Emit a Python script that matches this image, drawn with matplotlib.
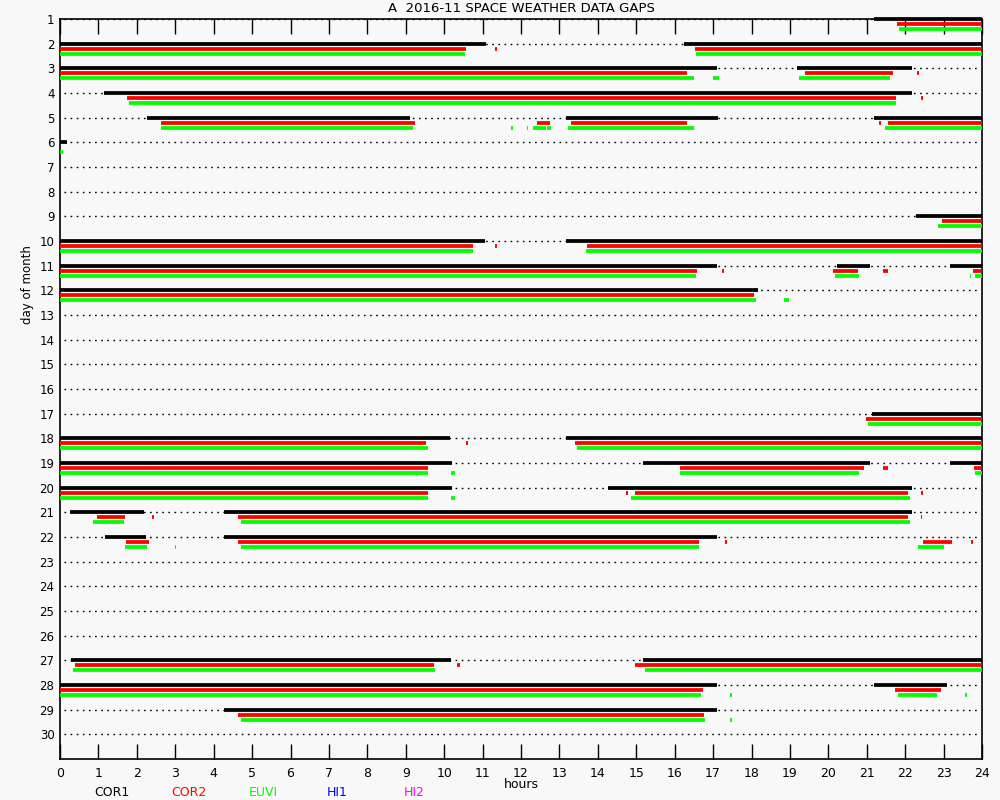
import matplotlib
matplotlib.use("Agg")
import matplotlib.pyplot as plt

# segments (day, start hour, end hour)
cor1_segments = [
    (1, 21.19, 24),
    (2, 0, 11.09), (2, 16.24, 24),
    (3, 0, 17.1), (3, 19.18, 22.18),
    (4, 1.15, 22.18),
    (5, 2.26, 9.11), (5, 13.17, 17.12), (5, 21.19, 24),
    (6, 0, 0.18),
    (9, 22.28, 24),
    (10, 0, 11.06), (10, 13.17, 24),
    (11, 0, 17.1), (11, 20.22, 21.08), (11, 23.17, 24),
    (12, 0, 18.17),
    (17, 21.13, 24),
    (18, 0, 10.15), (18, 13.17, 24),
    (19, 0, 10.2), (19, 15.17, 21.08), (19, 23.17, 24),
    (20, 0, 10.2), (20, 14.26, 22.18),
    (21, 0.26, 2.19), (21, 4.27, 22.18),
    (22, 1.17, 2.24), (22, 4.27, 17.1),
    (27, 0.29, 10.17), (27, 15.17, 24),
    (28, 0, 17.1), (28, 21.19, 23.08),
    (29, 4.27, 17.1),
]

cor2_segments = [
    (1, 21.79, 24),
    (2, 0, 10.57), (2, 11.33, 11.37), (2, 16.53, 24),
    (3, 0, 16.32), (3, 19.39, 21.68), (3, 22.31, 22.37),
    (4, 1.74, 21.76), (4, 22.42, 22.47),
    (5, 2.63, 9.24), (5, 12.42, 12.76), (5, 13.3, 16.32), (5, 21.33, 21.36), (5, 21.55, 24),
    (9, 22.96, 24),
    (10, 0, 10.75), (10, 11.33, 11.37), (10, 13.72, 24),
    (11, 0, 16.58), (11, 17.24, 17.28), (11, 20.12, 20.77), (11, 21.42, 21.55), (11, 23.76, 24),
    (12, 0, 18.06),
    (17, 20.98, 24),
    (18, 0, 9.53), (18, 10.58, 10.62), (18, 13.4, 24),
    (19, 0, 9.58), (19, 16.14, 20.93), (19, 21.42, 21.55), (19, 23.8, 24),
    (20, 0, 9.58), (20, 14.74, 14.78), (20, 14.97, 22.07), (20, 22.42, 22.46),
    (21, 0.96, 1.69), (21, 2.4, 2.44), (21, 4.63, 22.07), (21, 22.42, 22.45),
    (22, 1.72, 2.32), (22, 4.63, 16.63), (22, 17.31, 17.35), (22, 22.46, 23.22), (22, 23.72, 23.76),
    (27, 0.39, 9.73), (27, 10.34, 10.4), (27, 14.97, 24),
    (28, 0, 16.74), (28, 21.73, 22.93),
    (29, 4.63, 16.76),
]

euvi_segments = [
    (1, 21.84, 24),
    (2, 0, 10.54), (2, 16.55, 24),
    (3, 0, 16.5), (3, 16.99, 17.15), (3, 19.23, 21.6),
    (4, 1.8, 21.76),
    (5, 2.63, 9.19), (5, 11.75, 11.78), (5, 12.15, 12.18), (5, 12.31, 12.65),
    (5, 12.68, 12.79), (5, 13.22, 16.5), (5, 21.47, 24),
    (6, 0, 0.08),
    (9, 22.85, 24),
    (10, 0, 10.75), (10, 13.69, 24),
    (11, 0, 16.55), (11, 20.17, 20.8), (11, 23.68, 23.71), (11, 23.82, 24),
    (12, 0, 18.12), (12, 18.84, 18.97),
    (17, 21.03, 24),
    (18, 0, 9.58), (18, 13.46, 24),
    (19, 0, 9.58), (19, 10.18, 10.28), (19, 16.14, 20.8), (19, 23.82, 24),
    (20, 0, 9.58), (20, 10.18, 10.28), (20, 14.86, 22.12),
    (21, 0.86, 1.67), (21, 4.71, 22.12),
    (22, 1.69, 2.26), (22, 3.0, 3.03), (22, 4.71, 16.63), (22, 22.33, 23.0),
    (27, 0.34, 9.76), (27, 15.23, 24),
    (28, 0, 16.68), (28, 17.44, 17.48), (28, 21.81, 22.83), (28, 23.57, 23.6),
    (29, 4.71, 16.79), (29, 17.44, 17.48),
]

days = list(range(1, 31))
hours = list(range(0, 25))
legend_names = ["COR1", "COR2", "EUVI", "HI1", "HI2"]
legend_colors = ["black", "#ff0000", "#00ff00", "#0000ff", "#ff00ff"]

bg = "#f8f8f8"
fig = plt.figure(figsize=(10, 8), dpi=100, facecolor=bg)
ax = fig.add_axes([0.06, 1 - 759 / 800, 0.922, 740 / 800])
ax.set_facecolor(bg)

# dotted guide line for every day
for d in days:
    ax.plot([0.1, 23.95], [d, d], color="black", lw=1.0,
            dashes=(1.2, 3.2), zorder=1)

series = [(cor1_segments, "black", 0.0),
          (cor2_segments, "#ff0000", 0.203),
          (euvi_segments, "#00ff00", 0.406)]
for segs, col, off in series:
    for d, s, e in segs:
        ax.hlines(d + off, s, e, colors=col, linewidth=2.7,
                  capstyle="butt", zorder=3, clip_on=False)

ax.set_xlim(0, 24)
ax.set_ylim(31, 1)
ax.set_xticks(hours)
ax.set_yticks(days)
ax.tick_params(axis="x", which="both", direction="in", length=11, width=1,
               top=True, bottom=True, labelsize=9, pad=6)
ax.tick_params(axis="y", length=0, labelsize=8.5, pad=4)
for sp in ax.spines.values():
    sp.set_linewidth(1.2)
    sp.set_color("black")

fig.text(0.521, 1 - 9 / 800, "A  2016-11 SPACE WEATHER DATA GAPS",
         ha="center", va="center", fontsize=9.5)
fig.text(0.521, 1 - 785 / 800, "hours", ha="center", va="center", fontsize=9)
fig.text(0.027, 1 - 285 / 800, "day of month", ha="center", va="center",
         rotation=90, fontsize=8.5)

legend_x = [112, 189, 263, 337, 414]
for name, col, xp in zip(legend_names, legend_colors, legend_x):
    fig.text(xp / 1000, 1 - 793 / 800, name, color=col, ha="center",
             va="center", fontsize=9)

fig.savefig("out.png", dpi=100, facecolor=bg)
